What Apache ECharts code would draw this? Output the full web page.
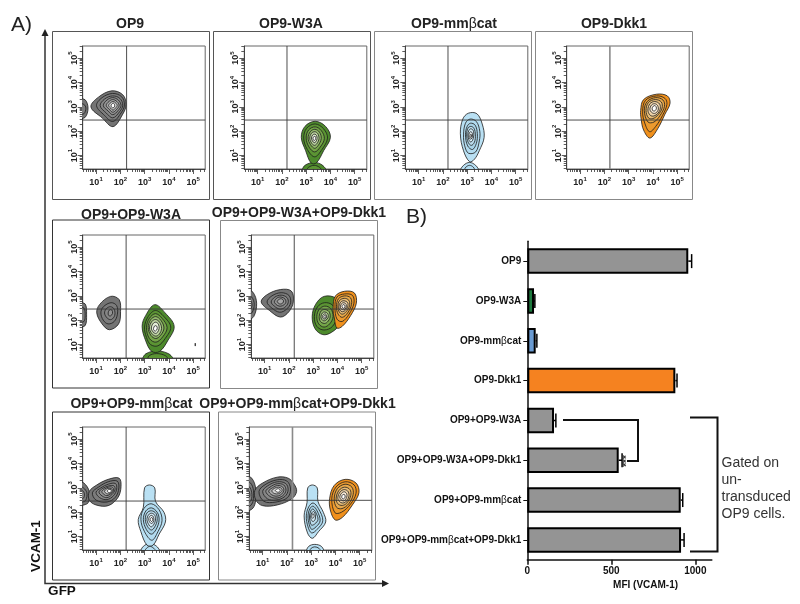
<!DOCTYPE html>
<html><head><meta charset="utf-8">
<style>html,body{margin:0;padding:0;background:#fff}#c{width:800px;height:604px}</style>
<script src="https://cdn.jsdelivr.net/npm/echarts@6/dist/echarts.min.js"></script>
</head><body><div id="c"></div>
<script>
// ---------- Panel A data: contours in log10 decades [GFP, VCAM-1], outermost first
const panelTitles = ['OP9','OP9-W3A','OP9-mmβcat','OP9-Dkk1','OP9+OP9-W3A','OP9+OP9-W3A+OP9-Dkk1','OP9+OP9-mmβcat','OP9+OP9-mmβcat+OP9-Dkk1'];
const decades = [1,2,3,4,5];
const gateX = [2.26,2.21,2.21,2.23,2.24,2.22,2.24,2.23];
const gateY = [2.46,2.46,2.46,2.46,2.46,2.46,2.46,2.49];

const grey1 = [
 [[.79,3.0],[1.1,3.4],[1.65,3.66],[2.1,3.5],[2.24,3.1],[2.1,2.7],[1.7,2.19],[1.25,2.55]],
 [[1.02,3.05],[1.25,3.38],[1.68,3.55],[2.05,3.42],[2.17,3.08],[2.03,2.75],[1.69,2.4],[1.35,2.65]],
 [[1.17,3.05],[1.35,3.32],[1.68,3.45],[1.98,3.35],[2.1,3.07],[1.97,2.8],[1.69,2.55],[1.42,2.75]],
 [[1.3,3.05],[1.45,3.28],[1.69,3.38],[1.92,3.28],[2.03,3.06],[1.91,2.85],[1.69,2.68],[1.5,2.83]],
 [[1.42,3.06],[1.53,3.22],[1.69,3.3],[1.86,3.22],[1.95,3.06],[1.85,2.9],[1.69,2.78],[1.55,2.9]],
 [[1.52,3.06],[1.6,3.17],[1.7,3.22],[1.8,3.17],[1.87,3.06],[1.8,2.95],[1.7,2.87],[1.6,2.95]],
 [[1.62,3.06],[1.68,3.14],[1.72,3.15],[1.76,3.1],[1.76,3.0],[1.7,2.96],[1.65,2.98]]];
const grey1Edge = [
 [[.3,3.29],[.55,3.29],[.67,2.95],[.55,2.57],[.3,2.57]],
 [[.3,3.12],[.5,3.1],[.58,2.95],[.5,2.72],[.3,2.72]]];
const green2 = [
 [[2.8,1.75],[2.95,2.2],[3.37,2.41],[3.8,2.2],[4.0,1.75],[3.72,1.2],[3.42,.7],[3.2,.7],[2.98,1.2]],
 [[2.9,1.72],[3.02,2.12],[3.37,2.3],[3.72,2.1],[3.88,1.72],[3.65,1.25],[3.35,.95],[3.05,1.25]],
 [[3.0,1.72],[3.1,2.05],[3.37,2.18],[3.62,2.03],[3.75,1.7],[3.58,1.35],[3.35,1.15],[3.12,1.35]],
 [[3.08,1.72],[3.17,1.98],[3.36,2.08],[3.55,1.96],[3.62,1.7],[3.5,1.42],[3.35,1.3],[3.18,1.45]],
 [[3.15,1.72],[3.22,1.92],[3.36,1.98],[3.48,1.9],[3.53,1.7],[3.45,1.5],[3.34,1.42],[3.22,1.52]],
 [[3.22,1.72],[3.27,1.85],[3.36,1.88],[3.43,1.82],[3.45,1.7],[3.4,1.57],[3.33,1.53],[3.26,1.6]],
 [[3.28,1.72],[3.32,1.78],[3.38,1.78],[3.39,1.7],[3.36,1.63],[3.31,1.63]]];
const green2Base = [
 [[2.87,.4],[2.95,.6],[3.33,.72],[3.65,.62],[3.8,.4]],
 [[3.05,.4],[3.1,.52],[3.33,.6],[3.55,.52],[3.62,.4]]];
const blue3 = [
 [[2.72,1.9],[2.82,2.5],[3.05,2.74],[3.4,2.72],[3.62,2.3],[3.7,1.75],[3.5,1.2],[3.3,.85],[3.1,.75],[2.85,1.2]],
 [[2.85,1.85],[2.93,2.33],[3.12,2.5],[3.38,2.4],[3.52,2.0],[3.5,1.6],[3.35,1.15],[3.05,1.1],[2.9,1.4]],
 [[2.93,1.85],[3.0,2.2],[3.14,2.33],[3.33,2.25],[3.42,1.9],[3.38,1.5],[3.22,1.25],[3.02,1.4]],
 [[2.98,1.85],[3.03,2.12],[3.15,2.2],[3.28,2.12],[3.34,1.85],[3.3,1.55],[3.17,1.42],[3.04,1.55]],
 [[3.03,1.85],[3.07,2.03],[3.15,2.1],[3.25,2.03],[3.27,1.82],[3.22,1.62],[3.14,1.56],[3.07,1.65]],
 [[3.07,1.82],[3.1,1.95],[3.16,1.98],[3.21,1.92],[3.22,1.78],[3.16,1.68],[3.1,1.7]],
 [[3.12,1.82],[3.15,1.88],[3.18,1.85],[3.17,1.76],[3.13,1.75]]];
const blue3Base = [
 [[2.75,.4],[2.85,.6],[3.1,.72],[3.35,.6],[3.45,.4]],
 [[2.9,.4],[2.95,.53],[3.1,.6],[3.25,.53],[3.3,.4]]];
const orange4 = [
 [[3.5,2.85],[3.62,3.3],[4.15,3.52],[4.6,3.45],[4.71,3.15],[4.5,2.7],[4.2,2.1],[3.88,1.72],[3.62,2.05],[3.52,2.5]],
 [[3.58,2.8],[3.7,3.27],[4.15,3.45],[4.5,3.35],[4.58,3.1],[4.4,2.65],[4.12,2.2],[3.87,1.98],[3.68,2.3]],
 [[3.65,2.85],[3.77,3.22],[4.12,3.38],[4.42,3.28],[4.48,3.02],[4.3,2.65],[4.05,2.38],[3.8,2.38]],
 [[3.72,2.85],[3.82,3.18],[4.1,3.3],[4.35,3.2],[4.38,2.95],[4.22,2.68],[4,2.52],[3.82,2.55]],
 [[3.8,2.87],[3.88,3.13],[4.08,3.22],[4.28,3.12],[4.3,2.9],[4.17,2.7],[4,2.62],[3.87,2.68]],
 [[3.88,2.9],[3.95,3.08],[4.08,3.13],[4.2,3.05],[4.22,2.87],[4.1,2.74],[3.97,2.76]],
 [[3.97,2.92],[4.02,3.03],[4.1,3.05],[4.15,2.95],[4.1,2.85],[4.02,2.83]]];
const grey5 = [
 [[1.03,2.3],[1.15,2.65],[1.6,2.98],[1.95,2.85],[2.01,2.35],[1.93,1.85],[1.55,1.61],[1.25,1.85]],
 [[1.2,2.3],[1.3,2.55],[1.62,2.72],[1.85,2.6],[1.88,2.25],[1.75,1.95],[1.5,1.85],[1.3,2.0]],
 [[1.35,2.3],[1.45,2.5],[1.62,2.55],[1.75,2.45],[1.77,2.2],[1.63,2.03],[1.47,2.08]],
 [[1.5,2.3],[1.55,2.42],[1.65,2.42],[1.68,2.28],[1.6,2.18],[1.52,2.2]]];
const grey5Edge = [
 [[.3,2.67],[.55,2.67],[.61,2.25],[.55,1.78],[.3,1.78]],
 [[.3,2.5],[.5,2.5],[.55,2.2],[.5,1.95],[.3,1.95]]];
const green5 = [
 [[2.9,1.75],[3.05,2.2],[3.42,2.64],[3.85,2.3],[4.22,1.75],[3.95,1.15],[3.62,.72],[3.3,.72],[3.05,1.15]],
 [[3.0,1.72],[3.15,2.15],[3.45,2.4],[3.8,2.15],[4.08,1.72],[3.85,1.25],[3.55,.95],[3.25,1.0],[3.08,1.3]],
 [[3.08,1.7],[3.2,2.08],[3.45,2.27],[3.72,2.08],[3.93,1.7],[3.75,1.32],[3.47,1.1],[3.2,1.25]],
 [[3.15,1.7],[3.25,2.02],[3.46,2.15],[3.67,2.0],[3.8,1.68],[3.66,1.38],[3.46,1.25],[3.26,1.38]],
 [[3.2,1.68],[3.3,1.95],[3.46,2.03],[3.62,1.92],[3.7,1.66],[3.6,1.42],[3.46,1.35],[3.3,1.45]],
 [[3.28,1.68],[3.35,1.86],[3.46,1.92],[3.57,1.84],[3.6,1.66],[3.53,1.5],[3.45,1.46],[3.35,1.52]],
 [[3.37,1.66],[3.42,1.77],[3.5,1.76],[3.52,1.65],[3.46,1.56],[3.39,1.58]]];
const green5Base = [
 [[2.95,.4],[3.05,.62],[3.5,.74],[4,.62],[4.15,.4]],
 [[3.15,.4],[3.2,.55],[3.5,.63],[3.85,.55],[3.95,.4]]];
const speck5 = [[[5.09,1.06],[5.1,1.0],[5.09,.94],[5.08,1.0]]];
const grey6 = [
 [[.86,2.75],[1.1,3.05],[1.65,3.26],[2.1,3.2],[2.18,2.75],[2.0,2.35],[1.65,2.13],[1.2,2.4]],
 [[1.1,2.75],[1.3,3.0],[1.68,3.13],[2.0,3.02],[2.07,2.72],[1.9,2.45],[1.62,2.33],[1.3,2.5]],
 [[1.27,2.75],[1.42,2.95],[1.68,3.03],[1.92,2.93],[1.97,2.72],[1.82,2.52],[1.62,2.46],[1.4,2.58]],
 [[1.4,2.76],[1.52,2.92],[1.68,2.95],[1.84,2.87],[1.87,2.72],[1.74,2.6],[1.6,2.58],[1.47,2.65]],
 [[1.52,2.77],[1.6,2.86],[1.7,2.88],[1.78,2.8],[1.74,2.7],[1.62,2.67]]];
const grey6Edge = [
 [[.3,3.2],[.52,3.15],[.67,2.7],[.55,2.15],[.3,2.05]],
 [[.3,3.0],[.47,2.95],[.57,2.65],[.47,2.3],[.3,2.25]],
 [[.3,2.85],[.42,2.82],[.48,2.62],[.42,2.45],[.3,2.4]]];
const green6 = [
 [[2.96,2.15],[3.1,2.65],[3.45,2.98],[3.95,2.9],[4.16,2.45],[4.1,1.85],[3.75,1.5],[3.4,1.41],[3.08,1.65]],
 [[3.05,2.15],[3.18,2.55],[3.47,2.72],[3.8,2.62],[3.98,2.2],[3.8,1.75],[3.45,1.6],[3.15,1.75]],
 [[3.15,2.15],[3.25,2.45],[3.48,2.58],[3.72,2.48],[3.82,2.15],[3.68,1.85],[3.45,1.72],[3.23,1.85]],
 [[3.25,2.15],[3.33,2.38],[3.48,2.44],[3.65,2.36],[3.7,2.13],[3.58,1.92],[3.45,1.87],[3.3,1.95]],
 [[3.32,2.15],[3.38,2.3],[3.48,2.34],[3.6,2.27],[3.62,2.12],[3.52,2.0],[3.43,1.98],[3.35,2.04]],
 [[3.38,2.15],[3.43,2.24],[3.5,2.26],[3.55,2.2],[3.55,2.1],[3.48,2.05],[3.41,2.07]],
 [[3.44,2.15],[3.47,2.2],[3.52,2.18],[3.52,2.12],[3.47,2.09]]];
const orange6 = [
 [[3.82,2.5],[3.92,3.0],[4.3,3.19],[4.7,3.12],[4.78,2.7],[4.55,2.2],[4.2,1.75],[3.98,1.68],[3.88,2.05]],
 [[3.9,2.55],[3.98,2.95],[4.3,3.08],[4.62,3.02],[4.68,2.7],[4.48,2.25],[4.2,1.95],[3.98,2.05]],
 [[3.96,2.55],[4.04,2.88],[4.3,3.0],[4.54,2.92],[4.58,2.65],[4.42,2.3],[4.2,2.12],[4.03,2.25]],
 [[4.02,2.55],[4.08,2.8],[4.28,2.9],[4.47,2.82],[4.5,2.6],[4.36,2.35],[4.2,2.25],[4.07,2.35]],
 [[4.06,2.55],[4.13,2.74],[4.27,2.8],[4.42,2.72],[4.42,2.55],[4.32,2.4],[4.2,2.35],[4.1,2.42]],
 [[4.12,2.55],[4.17,2.68],[4.27,2.72],[4.36,2.65],[4.35,2.5],[4.25,2.43],[4.15,2.47]],
 [[4.19,2.56],[4.23,2.64],[4.3,2.62],[4.31,2.54],[4.25,2.49]]];
const grey7 = [
 [[.72,2.85],[1.0,3.1],[1.5,3.35],[1.95,3.4],[2.03,3.05],[1.9,2.6],[1.5,2.27],[1.0,2.3],[.72,2.5]],
 [[.85,2.8],[1.1,3.03],[1.5,3.25],[1.87,3.28],[1.94,3.0],[1.8,2.62],[1.45,2.42],[1.0,2.5]],
 [[1.0,2.82],[1.2,3.0],[1.5,3.15],[1.8,3.18],[1.85,2.95],[1.72,2.68],[1.45,2.52],[1.15,2.6]],
 [[1.12,2.83],[1.28,2.98],[1.52,3.08],[1.74,3.08],[1.78,2.92],[1.65,2.72],[1.45,2.6],[1.25,2.67]],
 [[1.24,2.85],[1.36,2.96],[1.52,3.03],[1.68,3.02],[1.72,2.88],[1.6,2.75],[1.45,2.68],[1.33,2.73]],
 [[1.35,2.86],[1.45,2.96],[1.55,2.98],[1.66,2.95],[1.66,2.84],[1.55,2.76],[1.44,2.76]],
 [[1.47,2.87],[1.53,2.94],[1.62,2.92],[1.62,2.84],[1.54,2.8]]];
const grey7Edge = [
 [[.3,3.2],[.5,3.2],[.72,2.85],[.68,2.4],[.5,2.3],[.3,2.3]],
 [[.3,3.05],[.48,3.0],[.62,2.8],[.58,2.5],[.45,2.42],[.3,2.42]],
 [[.3,2.9],[.45,2.88],[.52,2.75],[.48,2.58],[.3,2.55]]];
const blue7 = [
 [[2.95,2.2],[3.0,3.0],[3.2,3.12],[3.42,3.0],[3.45,2.45],[3.8,2.0],[3.86,1.6],[3.6,1.1],[3.35,.65],[3.1,.65],[2.85,1.2],[2.74,1.7]],
 [[2.85,1.7],[2.97,2.15],[3.27,2.35],[3.6,2.1],[3.72,1.65],[3.55,1.2],[3.3,.85],[3.0,1.2]],
 [[2.95,1.7],[3.05,2.05],[3.28,2.18],[3.52,2.0],[3.6,1.68],[3.48,1.3],[3.28,1.1],[3.07,1.3]],
 [[3.03,1.7],[3.1,1.97],[3.28,2.06],[3.47,1.95],[3.52,1.68],[3.42,1.4],[3.28,1.27],[3.12,1.42]],
 [[3.1,1.7],[3.17,1.9],[3.29,1.96],[3.42,1.88],[3.45,1.68],[3.37,1.48],[3.27,1.4],[3.17,1.5]],
 [[3.17,1.7],[3.22,1.84],[3.3,1.87],[3.37,1.8],[3.38,1.66],[3.32,1.55],[3.25,1.55]],
 [[3.23,1.7],[3.27,1.78],[3.33,1.76],[3.33,1.66],[3.28,1.62]]];
const blue7Base = [
 [[2.87,.4],[2.95,.6],[3.22,.72],[3.5,.6],[3.6,.4]],
 [[3.02,.4],[3.08,.52],[3.22,.6],[3.38,.52],[3.45,.4]]];
const grey8 = [
 [[.68,2.9],[1.0,3.2],[1.6,3.44],[2.05,3.4],[2.3,3.15],[2.4,2.85],[2.2,2.55],[1.6,2.3],[1.0,2.27],[.72,2.5]],
 [[.85,2.85],[1.1,3.13],[1.6,3.33],[2.0,3.28],[2.15,2.95],[2.02,2.6],[1.55,2.42],[1.05,2.45]],
 [[1.0,2.85],[1.2,3.08],[1.6,3.25],[1.95,3.18],[2.05,2.92],[1.92,2.65],[1.55,2.5],[1.2,2.55]],
 [[1.13,2.86],[1.3,3.03],[1.6,3.17],[1.87,3.12],[1.96,2.9],[1.83,2.68],[1.55,2.58],[1.3,2.65]],
 [[1.25,2.87],[1.4,3.0],[1.62,3.1],[1.83,3.03],[1.87,2.88],[1.75,2.72],[1.55,2.66],[1.37,2.72]],
 [[1.38,2.88],[1.5,2.99],[1.65,3.03],[1.78,2.97],[1.79,2.86],[1.65,2.76],[1.48,2.77]],
 [[1.52,2.89],[1.6,2.96],[1.7,2.95],[1.72,2.86],[1.63,2.82]]];
const grey8Edge = [
 [[.3,3.44],[.55,3.4],[.72,2.95],[.7,2.4],[.55,2.12],[.3,2.1]],
 [[.3,3.25],[.5,3.2],[.62,2.9],[.6,2.45],[.47,2.25],[.3,2.25]],
 [[.3,3.1],[.45,3.05],[.55,2.8],[.53,2.5],[.42,2.4],[.3,2.4]],
 [[.3,2.95],[.42,2.9],[.47,2.75],[.44,2.6],[.3,2.55]]];
const blue8 = [
 [[2.83,2.4],[2.86,3.0],[3.05,3.12],[3.25,3.0],[3.28,2.45],[3.5,2.0],[3.6,1.6],[3.3,1.2],[3.05,.93],[2.85,1.15],[2.71,1.85]],
 [[2.8,1.85],[2.9,2.22],[3.08,2.38],[3.3,2.15],[3.48,1.65],[3.25,1.3],[3.02,1.15],[2.87,1.4]],
 [[2.87,1.85],[2.95,2.15],[3.08,2.25],[3.25,2.05],[3.37,1.65],[3.2,1.4],[3.02,1.3],[2.92,1.5]],
 [[2.93,1.85],[3,2.08],[3.08,2.13],[3.2,1.97],[3.28,1.7],[3.15,1.52],[3.02,1.47],[2.96,1.6]],
 [[2.98,1.85],[3.03,1.98],[3.1,2.03],[3.17,1.9],[3.17,1.72],[3.08,1.62],[3,1.7]],
 [[3.03,1.85],[3.05,1.93],[3.1,1.93],[3.12,1.82],[3.07,1.75],[3.03,1.78]]];
const blue8Base = [
 [[2.83,.4],[2.9,.6],[3.15,.68],[3.42,.6],[3.5,.4]],
 [[2.95,.4],[3,.52],[3.15,.58],[3.32,.52],[3.38,.4]]];
const orange8 = [
 [[3.76,2.55],[3.95,3.1],[4.4,3.35],[4.85,3.2],[4.97,2.8],[4.7,2.3],[4.3,1.8],[4,1.68],[3.8,2.05]],
 [[3.85,2.55],[4.02,3.03],[4.4,3.25],[4.77,3.12],[4.85,2.78],[4.62,2.33],[4.25,2],[3.98,1.98]],
 [[3.95,2.55],[4.08,2.97],[4.4,3.15],[4.68,3.03],[4.73,2.72],[4.55,2.35],[4.27,2.15],[4.05,2.2]],
 [[4.03,2.58],[4.15,2.9],[4.38,3.03],[4.6,2.93],[4.63,2.68],[4.47,2.38],[4.28,2.28],[4.1,2.35]],
 [[4.1,2.6],[4.2,2.84],[4.37,2.93],[4.53,2.84],[4.55,2.63],[4.42,2.42],[4.28,2.38],[4.16,2.45]],
 [[4.18,2.62],[4.25,2.78],[4.37,2.84],[4.47,2.75],[4.46,2.6],[4.36,2.47],[4.25,2.5]],
 [[4.26,2.64],[4.3,2.72],[4.38,2.72],[4.4,2.62],[4.34,2.55],[4.28,2.57]]];

// ---------- Panel B data
const barCategories = ['OP9','OP9-W3A','OP9-mmβcat','OP9-Dkk1','OP9+OP9-W3A','OP9+OP9-W3A+OP9-Dkk1','OP9+OP9-mmβcat','OP9+OP9-mmβcat+OP9-Dkk1'];
const barValues = [958,40,50,881,159,544,913,915];
const barErrors = [20,5,7,10,11,20,12,18];
const barTicks = [0,500,1000];

// ---------- Styles and layout
const palettes = {
 grey:['#747474','#7c7c7c','#868686','#929292','#a8a8a8','#cfcfcf','#ffffff'],
 green:['#4d8a2c','#5b9433','#74a548','#94ba6c','#bbd29f','#e3edd6','#ffffff'],
 blue:['#b9e0f3','#b2dbef','#a8d2e6','#bbdcec','#d4eaf5','#eff8fc','#ffffff'],
 orange:['#f0901c','#ec9a2e','#e7a94c','#e8bd78','#efd3a9','#f7e9d5','#ffffff']
};
const panelBlobs = [
 [['grey',grey1Edge],['grey',grey1]],
 [['green',green2Base],['green',green2]],
 [['blue',blue3Base],['blue',blue3]],
 [['orange',orange4]],
 [['grey',grey5Edge],['grey',grey5],['green',green5Base],['green',green5],['grey',speck5]],
 [['grey',grey6Edge],['grey',grey6],['green',green6],['orange',orange6]],
 [['grey',grey7Edge],['grey',grey7],['blue',blue7Base],['blue',blue7]],
 [['grey',grey8Edge],['grey',grey8],['blue',blue8Base],['blue',blue8],['orange',orange8]]
];
const plots = [[82.7,46],[244.3,46],[405.3,46],[566.7,46],[82.7,235],[251.3,235],[82.7,427],[249.3,427]];
const plotW = 122.5, plotH = 123;
const frames = [[52.5,31.5,'#555'],[213.5,31.5,'#555'],[374.5,31.5,'#888'],[535.5,31.5,'#888'],
                [52.5,220,'#333'],[220.5,220.5,'#888'],[52.5,412,'#333'],[218.5,412,'#888']];
const frameW = 157, frameH = 168;
const titlePos = [[130,24],[291,24],[454,24],[614,24],[131,215],[299,213],[131.5,404],[297.5,404]];
const barColors = ['#949494','#1d7a3e','#6a9bd2','#f58220','#949494','#949494','#949494','#949494'];
const minorTicks = [];
[0,1,2,3,4,5].forEach(n=>[2,3,4,5,6,7,8,9].forEach(k=>{const v=n+Math.log10(k); if(v>.45&&v<5.5) minorTicks.push(v);}));

const rich = {
 b:{fontFamily:'Liberation Sans',fontWeight:'bold',fontSize:14,color:'#111'},
 g:{fontFamily:'Liberation Sans',fontWeight:'normal',fontSize:14,color:'#111'}
};
const richBar = {
 b:{fontFamily:'Liberation Sans',fontWeight:'bold',fontSize:10,color:'#111'},
 g:{fontFamily:'Liberation Sans',fontWeight:'normal',fontSize:10,color:'#111'}
};
const betaRich = s => s.split('β').map(p=>`{b|${p}}`).join('{g|β}');
const tickRich = {
 t:{fontFamily:'Liberation Sans',fontWeight:'bold',fontSize:9,color:'#222',lineHeight:11,verticalAlign:'bottom'},
 s:{fontFamily:'Liberation Sans',fontWeight:'bold',fontSize:6,color:'#222',lineHeight:11,verticalAlign:'top'}
};
const mkAxis = (i, isX, major) => ({
 gridIndex:i, type:'value', min:.45, max:5.5, scale:false,
 position:isX?'bottom':'left',
 axisLine:{show:major, onZero:false, lineStyle:{color:'#444',width:1}},
 splitLine:{show:false}, minorTick:{show:false},
 axisTick:{show:true, inside:false, length:major?5:3, customValues:major?decades:minorTicks, lineStyle:{color:'#333',width:.8}},
 axisLabel:{show:major, customValues:decades, rotate:isX?0:90, margin:isX?7:4, rich:tickRich,
   hideOverlap:false, showMinLabel:true, showMaxLabel:true,
   formatter:v=>`{t|10}{s|${Math.round(v)}}`}
});

const grids=[], xAxes=[], yAxes=[], series=[];
panelTitles.forEach((t,i)=>{
 grids.push({left:plots[i][0],top:plots[i][1],width:plotW,height:plotH,show:true,borderColor:'#666',borderWidth:1,backgroundColor:'#fff'});
 xAxes.push(mkAxis(i,true,true),mkAxis(i,true,false));
 yAxes.push(mkAxis(i,false,true),mkAxis(i,false,false));
 const cs=[];
 panelBlobs[i].forEach(([pal,cont])=>cont.forEach((pts,lvl)=>cs.push({pts,fill:palettes[pal][lvl]})));
 series.push({type:'custom',name:t,xAxisIndex:2*i,yAxisIndex:2*i,clip:true,silent:true,
  data:cs.map(c=>c.pts[0]),
  renderItem:(p,api)=>{const c=cs[p.dataIndex];
   return {type:'polygon',shape:{points:c.pts.map(q=>api.coord(q)),smooth:.36},
           style:{fill:c.fill,stroke:'#1c1c1c',lineWidth:.8}};}});
 const gateStyle=(i===3||i===7)?{color:'#8a8a8a',width:1.6}:{color:'#3a3a3a',width:.9};
 series.push({type:'line',xAxisIndex:2*i,yAxisIndex:2*i,symbol:'none',silent:true,lineStyle:gateStyle,
   data:[[gateX[i],.45],[gateX[i],5.5]]});
 series.push({type:'line',xAxisIndex:2*i,yAxisIndex:2*i,symbol:'none',silent:true,lineStyle:{color:'#3a3a3a',width:.9},
   data:[[.45,gateY[i]],[5.5,gateY[i]]]});
});

// bar chart grid
grids.push({left:527.3,top:241.2,width:184.5,height:318.6});
xAxes.push({gridIndex:8,type:'value',min:0,max:1098,position:'bottom',splitLine:{show:false},
 axisLine:{show:true,onZero:false,lineStyle:{color:'#111',width:1.5}},
 axisTick:{show:true,length:5,customValues:barTicks,lineStyle:{color:'#111',width:1.5}},
 axisLabel:{customValues:barTicks,margin:6,fontFamily:'Liberation Sans',fontWeight:'bold',fontSize:10,color:'#111',formatter:v=>String(v)},
 name:'MFI (VCAM-1)',nameLocation:'middle',nameGap:19,
 nameTextStyle:{fontFamily:'Liberation Sans',fontWeight:'bold',fontSize:10,color:'#111',padding:[0,0,0,52]}});
yAxes.push({gridIndex:8,type:'category',inverse:true,data:barCategories,
 axisLine:{show:true,onZero:false,lineStyle:{color:'#111',width:1.5}},
 axisTick:{show:true,length:4,alignWithLabel:true,interval:0,lineStyle:{color:'#111',width:1}},
 axisLabel:{interval:0,margin:6,rich:richBar,formatter:betaRich}});
const bi=panelTitles.length*2;
series.push({type:'bar',xAxisIndex:bi,yAxisIndex:bi,barWidth:25.5,silent:true,
 data:barValues.map((v,i)=>({value:v,itemStyle:{color:barColors[i],borderColor:'#000',borderWidth:2}}))});
series.push({type:'custom',xAxisIndex:bi,yAxisIndex:bi,silent:true,z:5,
 data:barValues.map((v,i)=>[v+barErrors[i],i,v]),
 renderItem:(p,api)=>{
  const hi=api.coord([api.value(0),api.value(1)]),lo=api.coord([api.value(2),api.value(1)]);
  const st={stroke:'#000',lineWidth:1.5};
  return {type:'group',children:[
   {type:'line',shape:{x1:lo[0],y1:lo[1],x2:hi[0],y2:hi[1]},style:st},
   {type:'line',shape:{x1:hi[0],y1:hi[1]-7,x2:hi[0],y2:hi[1]+7},style:st}]};
 }});

// annotations and panel furniture
const txt=(text,x,y,fs,opt={})=>({type:'text',x,y,rotation:opt.rot||0,z:20,silent:true,
 style:{text,align:opt.align||'center',verticalAlign:'middle',fontFamily:'Liberation Sans',
  fontSize:fs,fontWeight:opt.w||'normal',fill:opt.c||'#222',rich:opt.rich}});
const poly=(points,w=1.5,c='#111')=>({type:'polyline',z:20,silent:true,shape:{points},style:{stroke:c,lineWidth:w,fill:null}});
const tri=(points)=>({type:'polygon',z:20,silent:true,shape:{points},style:{fill:'#222'}});
const graphics=[];
frames.forEach(f=>graphics.push({type:'rect',z:-1,silent:true,shape:{x:f[0],y:f[1],width:frameW,height:frameH},style:{fill:'#fff',stroke:f[2],lineWidth:1}}));
panelTitles.forEach((t,i)=>graphics.push(txt(betaRich(t),titlePos[i][0],titlePos[i][1],14,{rich})));
graphics.push(
 txt('A)',21.5,25,21,{c:'#222'}), txt('B)',416.5,217,21,{c:'#222'}),
 poly([[45,35],[45,583.5],[383,583.5]],1.5,'#333'),
 tri([[45,29],[41.5,36],[48.5,36]]), tri([[389,583.5],[382,580],[382,587]]),
 txt('VCAM-1',36,546,13.5,{w:'bold',rot:Math.PI/2,c:'#111'}),
 txt('GFP',62,591.5,13.5,{w:'bold',c:'#111'}),
 poly([[563,420],[638,420],[638,461],[627,461]],2),
 txt('***',627.5,461,10,{w:'bold',rot:Math.PI/2,c:'#333'}),
 poly([[690,417.5],[717.5,417.5],[717.5,551.5],[690,551.5]],2),
 txt('Gated on',721.5,463,14,{align:'left',c:'#333'}),
 txt('un-',721.5,480,14,{align:'left',c:'#333'}),
 txt('transduced',721.5,497,14,{align:'left',c:'#333'}),
 txt('OP9 cells.',721.5,514,14,{align:'left',c:'#333'})
);

const chart=echarts.init(document.getElementById('c'));
chart.setOption({animation:false,backgroundColor:'#fff',grid:grids,xAxis:xAxes,yAxis:yAxes,series,graphic:graphics});
</script></body></html>
